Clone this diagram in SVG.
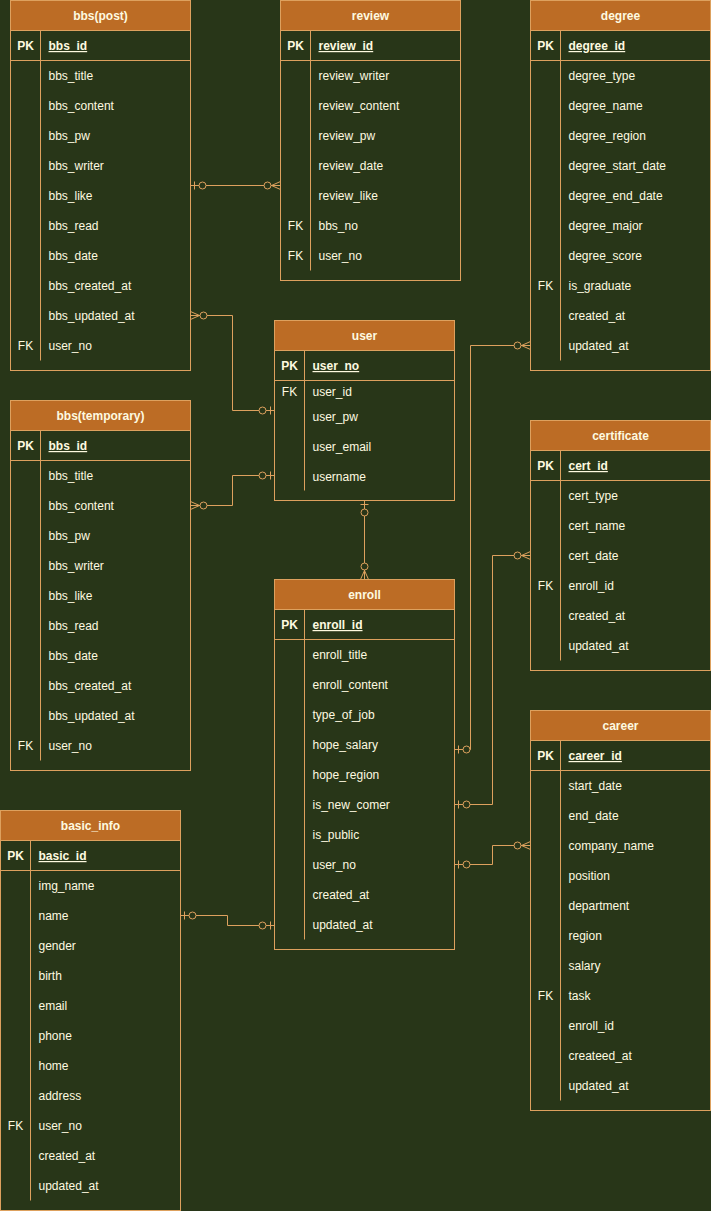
<svg xmlns="http://www.w3.org/2000/svg" width="711" height="1211" viewBox="0 0 711 1211">
<style>
.bg{fill:#283618}
.hd{fill:#BC6C25;stroke:#DDA15E;stroke-width:1}
.tb{fill:none;stroke:#DDA15E;stroke-width:1}
.ln{stroke:#DDA15E;stroke-width:1;fill:none}
text{font-family:"Liberation Sans",Arial,Helvetica,sans-serif;font-size:12px;fill:#FEFAE0}
.h{font-weight:bold;text-anchor:middle}
.k{text-anchor:middle}
.pk{font-weight:bold}
.pf{font-weight:bold;text-decoration:underline}
.cn{stroke:#DDA15E;stroke-width:1;fill:none}
</style>
<defs>
<marker id="one0" viewBox="-20 -10 22 20" refX="0" refY="0" markerWidth="22" markerHeight="20" markerUnits="userSpaceOnUse" orient="auto-start-reverse" overflow="visible">
<path d="M-4,-4 V4" stroke="#DDA15E" stroke-width="1" fill="none"/>
<circle cx="-12" cy="0" r="3.5" fill="#283618" stroke="#DDA15E" stroke-width="1"/>
</marker>
<marker id="many0" viewBox="-20 -10 22 20" refX="0" refY="0" markerWidth="22" markerHeight="20" markerUnits="userSpaceOnUse" orient="auto-start-reverse" overflow="visible">
<path d="M-9,0 L0,-4 M-9,0 L0,4" stroke="#DDA15E" stroke-width="1" fill="none"/>
<circle cx="-13" cy="0" r="3.5" fill="#283618" stroke="#DDA15E" stroke-width="1"/>
</marker>
</defs>
<rect class="bg" x="0" y="0" width="711" height="1211"/>
<g transform="translate(0.5,0.5)">

<g id="bbs_post">
<rect class="hd" x="10" y="0" width="180" height="30"/>
<rect class="tb" x="10" y="0" width="180" height="370"/>
<line class="ln" x1="10" y1="60" x2="190" y2="60"/>
<line class="ln" x1="40" y1="30" x2="40" y2="360"/>
<text class="h" x="100" y="19.5">bbs(post)</text>
<text class="k pk" x="25" y="49.5">PK</text><text class="pf" x="48" y="49.5">bbs_id</text>
<text x="48" y="79.5">bbs_title</text>
<text x="48" y="109.5">bbs_content</text>
<text x="48" y="139.5">bbs_pw</text>
<text x="48" y="169.5">bbs_writer</text>
<text x="48" y="199.5">bbs_like</text>
<text x="48" y="229.5">bbs_read</text>
<text x="48" y="259.5">bbs_date</text>
<text x="48" y="289.5">bbs_created_at</text>
<text x="48" y="319.5">bbs_updated_at</text>
<text class="k" x="25" y="349.5">FK</text><text x="48" y="349.5">user_no</text>
</g>

<g id="review">
<rect class="hd" x="280" y="0" width="180" height="30"/>
<rect class="tb" x="280" y="0" width="180" height="280"/>
<line class="ln" x1="280" y1="60" x2="460" y2="60"/>
<line class="ln" x1="310" y1="30" x2="310" y2="270"/>
<text class="h" x="370" y="19.5">review</text>
<text class="k pk" x="295" y="49.5">PK</text><text class="pf" x="318" y="49.5">review_id</text>
<text x="318" y="79.5">review_writer</text>
<text x="318" y="109.5">review_content</text>
<text x="318" y="139.5">review_pw</text>
<text x="318" y="169.5">review_date</text>
<text x="318" y="199.5">review_like</text>
<text class="k" x="295" y="229.5">FK</text><text x="318" y="229.5">bbs_no</text>
<text class="k" x="295" y="259.5">FK</text><text x="318" y="259.5">user_no</text>
</g>

<g id="degree">
<rect class="hd" x="530" y="0" width="180" height="30"/>
<rect class="tb" x="530" y="0" width="180" height="370"/>
<line class="ln" x1="530" y1="60" x2="710" y2="60"/>
<line class="ln" x1="560" y1="30" x2="560" y2="360"/>
<text class="h" x="620" y="19.5">degree</text>
<text class="k pk" x="545" y="49.5">PK</text><text class="pf" x="568" y="49.5">degree_id</text>
<text x="568" y="79.5">degree_type</text>
<text x="568" y="109.5">degree_name</text>
<text x="568" y="139.5">degree_region</text>
<text x="568" y="169.5">degree_start_date</text>
<text x="568" y="199.5">degree_end_date</text>
<text x="568" y="229.5">degree_major</text>
<text x="568" y="259.5">degree_score</text>
<text class="k" x="545" y="289.5">FK</text><text x="568" y="289.5">is_graduate</text>
<text x="568" y="319.5">created_at</text>
<text x="568" y="349.5">updated_at</text>
</g>

<g id="user">
<rect class="hd" x="274" y="320" width="180" height="30"/>
<rect class="tb" x="274" y="320" width="180" height="180"/>
<line class="ln" x1="274" y1="380" x2="454" y2="380"/>
<line class="ln" x1="304" y1="350" x2="304" y2="490"/>
<text class="h" x="364" y="339.5">user</text>
<text class="k pk" x="289" y="369.5">PK</text><text class="pf" x="312" y="369.5">user_no</text>
<text class="k" x="289" y="395.5">FK</text><text x="312" y="395.5">user_id</text>
<text x="312" y="420.5">user_pw</text>
<text x="312" y="450.5">user_email</text>
<text x="312" y="480.5">username</text>
</g>

<g id="bbs_temporary">
<rect class="hd" x="10" y="400" width="180" height="30"/>
<rect class="tb" x="10" y="400" width="180" height="370"/>
<line class="ln" x1="10" y1="460" x2="190" y2="460"/>
<line class="ln" x1="40" y1="430" x2="40" y2="760"/>
<text class="h" x="100" y="419.5">bbs(temporary)</text>
<text class="k pk" x="25" y="449.5">PK</text><text class="pf" x="48" y="449.5">bbs_id</text>
<text x="48" y="479.5">bbs_title</text>
<text x="48" y="509.5">bbs_content</text>
<text x="48" y="539.5">bbs_pw</text>
<text x="48" y="569.5">bbs_writer</text>
<text x="48" y="599.5">bbs_like</text>
<text x="48" y="629.5">bbs_read</text>
<text x="48" y="659.5">bbs_date</text>
<text x="48" y="689.5">bbs_created_at</text>
<text x="48" y="719.5">bbs_updated_at</text>
<text class="k" x="25" y="749.5">FK</text><text x="48" y="749.5">user_no</text>
</g>

<g id="certificate">
<rect class="hd" x="530" y="420" width="180" height="30"/>
<rect class="tb" x="530" y="420" width="180" height="250"/>
<line class="ln" x1="530" y1="480" x2="710" y2="480"/>
<line class="ln" x1="560" y1="450" x2="560" y2="660"/>
<text class="h" x="620" y="439.5">certificate</text>
<text class="k pk" x="545" y="469.5">PK</text><text class="pf" x="568" y="469.5">cert_id</text>
<text x="568" y="499.5">cert_type</text>
<text x="568" y="529.5">cert_name</text>
<text x="568" y="559.5">cert_date</text>
<text class="k" x="545" y="589.5">FK</text><text x="568" y="589.5">enroll_id</text>
<text x="568" y="619.5">created_at</text>
<text x="568" y="649.5">updated_at</text>
</g>

<g id="enroll">
<rect class="hd" x="274" y="579" width="180" height="30"/>
<rect class="tb" x="274" y="579" width="180" height="370"/>
<line class="ln" x1="274" y1="639" x2="454" y2="639"/>
<line class="ln" x1="304" y1="609" x2="304" y2="939"/>
<text class="h" x="364" y="598.5">enroll</text>
<text class="k pk" x="289" y="628.5">PK</text><text class="pf" x="312" y="628.5">enroll_id</text>
<text x="312" y="658.5">enroll_title</text>
<text x="312" y="688.5">enroll_content</text>
<text x="312" y="718.5">type_of_job</text>
<text x="312" y="748.5">hope_salary</text>
<text x="312" y="778.5">hope_region</text>
<text x="312" y="808.5">is_new_comer</text>
<text x="312" y="838.5">is_public</text>
<text x="312" y="868.5">user_no</text>
<text x="312" y="898.5">created_at</text>
<text x="312" y="928.5">updated_at</text>
</g>

<g id="career">
<rect class="hd" x="530" y="710" width="180" height="30"/>
<rect class="tb" x="530" y="710" width="180" height="400"/>
<line class="ln" x1="530" y1="770" x2="710" y2="770"/>
<line class="ln" x1="560" y1="740" x2="560" y2="1100"/>
<text class="h" x="620" y="729.5">career</text>
<text class="k pk" x="545" y="759.5">PK</text><text class="pf" x="568" y="759.5">career_id</text>
<text x="568" y="789.5">start_date</text>
<text x="568" y="819.5">end_date</text>
<text x="568" y="849.5">company_name</text>
<text x="568" y="879.5">position</text>
<text x="568" y="909.5">department</text>
<text x="568" y="939.5">region</text>
<text x="568" y="969.5">salary</text>
<text class="k" x="545" y="999.5">FK</text><text x="568" y="999.5">task</text>
<text x="568" y="1029.5">enroll_id</text>
<text x="568" y="1059.5">createed_at</text>
<text x="568" y="1089.5">updated_at</text>
</g>

<g id="basic_info">
<rect class="hd" x="0" y="810" width="180" height="30"/>
<rect class="tb" x="0" y="810" width="180" height="400"/>
<line class="ln" x1="0" y1="870" x2="180" y2="870"/>
<line class="ln" x1="30" y1="840" x2="30" y2="1200"/>
<text class="h" x="90" y="829.5">basic_info</text>
<text class="k pk" x="15" y="859.5">PK</text><text class="pf" x="38" y="859.5">basic_id</text>
<text x="38" y="889.5">img_name</text>
<text x="38" y="919.5">name</text>
<text x="38" y="949.5">gender</text>
<text x="38" y="979.5">birth</text>
<text x="38" y="1009.5">email</text>
<text x="38" y="1039.5">phone</text>
<text x="38" y="1069.5">home</text>
<text x="38" y="1099.5">address</text>
<text class="k" x="15" y="1129.5">FK</text><text x="38" y="1129.5">user_no</text>
<text x="38" y="1159.5">created_at</text>
<text x="38" y="1189.5">updated_at</text>
</g>

<g id="connectors">
<path class="cn" d="M190,185 H280" marker-start="url(#one0)" marker-end="url(#many0)"/>
<path class="cn" d="M190,315 H232 V410 H274" marker-start="url(#many0)" marker-end="url(#one0)"/>
<path class="cn" d="M190,505 H232 V475 H274" marker-start="url(#many0)" marker-end="url(#one0)"/>
<path class="cn" d="M364,500 V579" marker-start="url(#one0)" marker-end="url(#many0)"/>
<path class="cn" d="M454,749 H470 V345 H530" marker-start="url(#one0)" marker-end="url(#many0)"/>
<path class="cn" d="M454,804 H492 V555 H530" marker-start="url(#one0)" marker-end="url(#many0)"/>
<path class="cn" d="M454,864 H492 V845 H530" marker-start="url(#one0)" marker-end="url(#many0)"/>
<path class="cn" d="M180,915 H227 V925 H274" marker-start="url(#one0)" marker-end="url(#one0)"/>
</g>
</g>
</svg>
